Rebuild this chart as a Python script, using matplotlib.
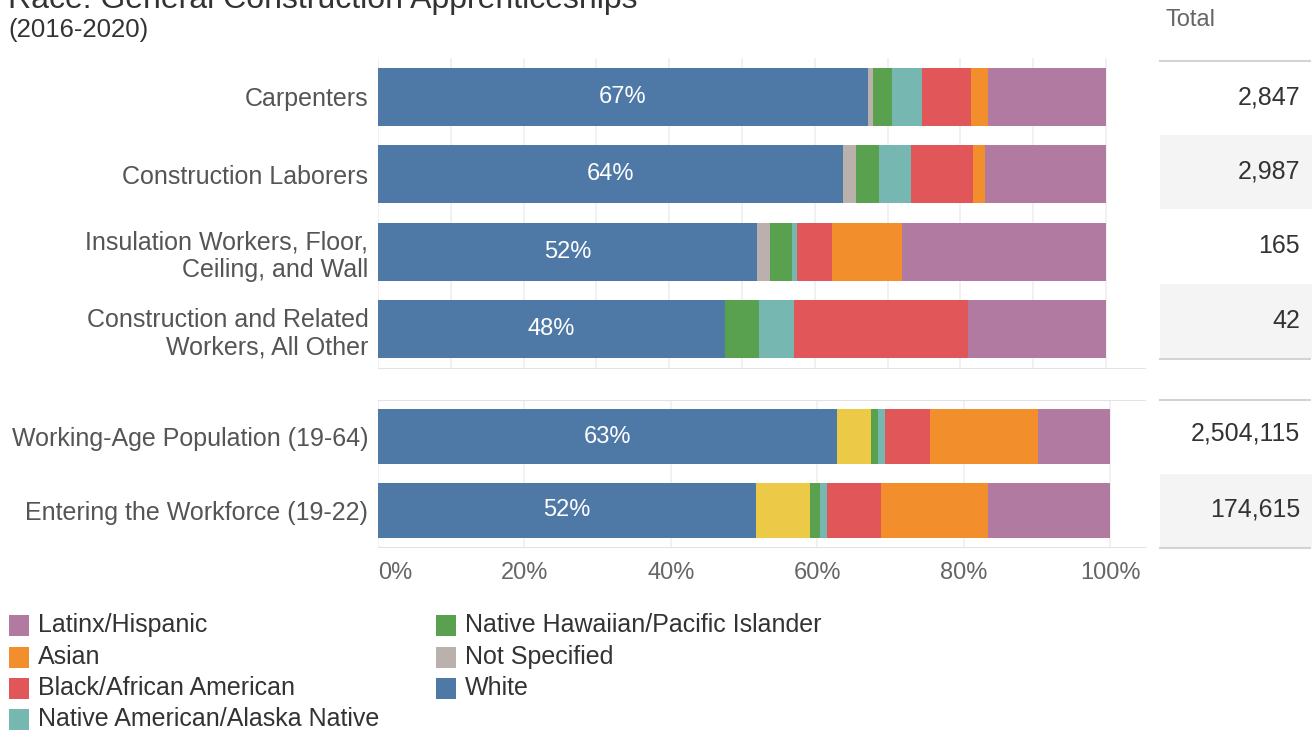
import matplotlib
matplotlib.use("Agg")
import matplotlib.pyplot as plt
from matplotlib.patches import Rectangle

plt.rcParams["font.family"] = ["Liberation Sans", "DejaVu Sans"]

# ---- data -------------------------------------------------------------
trades = ["Carpenters", "Construction Laborers",
          "Insulation Workers, Floor,\nCeiling, and Wall",
          "Construction and Related\nWorkers, All Other"]
benchmarks = ["Working-Age Population (19-64)", "Entering the Workforce (19-22)"]

trade_totals = [2847, 2987, 165, 42]
benchmark_totals = [2504115, 174615]

# shares in percent, in stacking order (left to right)
white_t      = [67.3, 63.9, 52.1, 47.6]
multi_t      = [0.0, 0.0, 0.0, 0.0]
not_spec_t   = [0.7, 1.7, 1.8, 0.0]
nhpi_t       = [2.6, 3.2, 3.0, 4.8]
native_t     = [4.1, 4.4, 0.6, 4.8]
black_t      = [6.7, 8.5, 4.8, 23.8]
asian_t      = [2.4, 1.7, 9.7, 0.0]
latinx_t     = [16.2, 16.6, 28.0, 19.0]

white_b      = [62.7, 51.7]
multi_b      = [4.7, 7.3]
not_spec_b   = [0.0, 0.0]
nhpi_b       = [0.9, 1.4]
native_b     = [0.9, 1.0]
black_b      = [6.2, 7.3]
asian_b      = [14.7, 14.7]
latinx_b     = [9.9, 16.6]

groups = ["White", "Two or More Races", "Not Specified",
          "Native Hawaiian/Pacific Islander", "Native American/Alaska Native",
          "Black/African American", "Asian", "Latinx/Hispanic"]
colors = {
    "White": "#4E79A7",
    "Two or More Races": "#EDC948",
    "Not Specified": "#BAB0AC",
    "Native Hawaiian/Pacific Islander": "#59A14F",
    "Native American/Alaska Native": "#76B7B2",
    "Black/African American": "#E15759",
    "Asian": "#F28E2B",
    "Latinx/Hispanic": "#B07AA1",
}
trade_series = [white_t, multi_t, not_spec_t, nhpi_t, native_t, black_t, asian_t, latinx_t]
bench_series = [white_b, multi_b, not_spec_b, nhpi_b, native_b, black_b, asian_b, latinx_b]

legend_col1 = ["Latinx/Hispanic", "Asian", "Black/African American",
               "Native American/Alaska Native"]
legend_col2 = ["Native Hawaiian/Pacific Islander", "Not Specified", "White"]

# ---- figure -----------------------------------------------------------
W, H = 1314, 736
fig = plt.figure(figsize=(W / 100, H / 100), dpi=100)

def frac_rect(x0, y0, x1, y1):
    return [x0 / W, 1 - y1 / H, (x1 - x0) / W, (y1 - y0) / H]

# overlay in pixel units for titles, table and legend
pax = fig.add_axes([0, 0, 1, 1], zorder=0)
pax.set_xlim(0, W)
pax.set_ylim(H, 0)
pax.axis("off")

LABEL_C = "#555555"
TEXT_C = "#333333"
GRID_C = "#EFEFEF"
LINE_C = "#E3E3E3"


def draw_panel(ax, names, series, xmax, grid_step):
    n = len(names)
    ys = list(range(n))
    left = [0.0] * n
    for g, vals in zip(groups, series):
        v = [x / 100 for x in vals]
        ax.barh(ys, v, left=left, height=0.75, color=colors[g],
                edgecolor="none", zorder=2)
        left = [a + b for a, b in zip(left, v)]
    # white share label
    for y, w in zip(ys, series[0]):
        ax.text(w / 200, y, f"{round(w)}%", ha="center", va="center",
                color="white", fontsize=17, zorder=3)
    ax.set_xlim(0, xmax)
    ax.set_ylim(n - 0.5, -0.5)
    ax.set_yticks(ys)
    ax.set_yticklabels(names, fontsize=18, color=LABEL_C, ma="right")
    ax.tick_params(axis="y", length=0, pad=7)
    gx = [i * grid_step for i in range(int(round(1 / grid_step)) + 1)]
    for x in gx:
        ax.axvline(x, color=GRID_C, lw=1.2, zorder=1)
    for s in ("left", "right", "top", "bottom"):
        ax.spines[s].set_visible(False)
    ax.set_facecolor("none")


# apprenticeship panel
ax1 = fig.add_axes(frac_rect(378, 58, 1145, 368), zorder=2)
draw_panel(ax1, trades, trade_series, 767 / 728, 0.1)
ax1.set_xticks([])
ax1.spines["bottom"].set_visible(True)
ax1.spines["bottom"].set_color(LINE_C)

# benchmark panel
ax2 = fig.add_axes(frac_rect(378, 400, 1145, 547), zorder=2)
draw_panel(ax2, benchmarks, bench_series, 767 / 732, 0.2)
for s in ("top", "bottom"):
    ax2.spines[s].set_visible(True)
    ax2.spines[s].set_color(LINE_C)
ticks = [0, 0.2, 0.4, 0.6, 0.8, 1.0]
ax2.set_xticks(ticks)
ax2.set_xticklabels([f"{int(t * 100)}%" for t in ticks], fontsize=17, color="#666666")
ax2.tick_params(axis="x", length=0, pad=11)
ax2.get_xticklabels()[0].set_horizontalalignment("left")

# titles
pax.text(8, 8, "Race: General Construction Apprenticeships", fontsize=23,
         color=TEXT_C, ha="left", va="baseline")
pax.text(8, 30, "(2016-2020)", fontsize=18.5, color=TEXT_C, ha="left", va="center")

# totals table
pax.text(1165, 20, "Total", fontsize=17, color="#666666", ha="left", va="center")
for y0, y1 in [(135, 209), (284, 358), (474, 547)]:
    pax.add_patch(Rectangle((1160, y0), 152, y1 - y0, color="#F4F4F4", lw=0))
for y in (61, 359, 400, 548):
    pax.plot([1160, 1310], [y, y], color="#D3D3D3", lw=1.5)
for y, v in zip([97, 171, 246, 321], trade_totals):
    pax.text(1300, y, f"{v:,}", fontsize=18, color=TEXT_C, ha="right", va="center")
for y, v in zip([433, 510], benchmark_totals):
    pax.text(1300, y, f"{v:,}", fontsize=18, color=TEXT_C, ha="right", va="center")

# legend
row_y = [625, 657, 688, 719]
for col_x, names in [(9, legend_col1), (436, legend_col2)]:
    for y, name in zip(row_y, names):
        pax.add_patch(Rectangle((col_x, y - 10.5), 20, 21, color=colors[name], lw=0))
        pax.text(col_x + 29, y, name, fontsize=18, color=TEXT_C, ha="left", va="center")

fig.savefig("out.png", dpi=100)
